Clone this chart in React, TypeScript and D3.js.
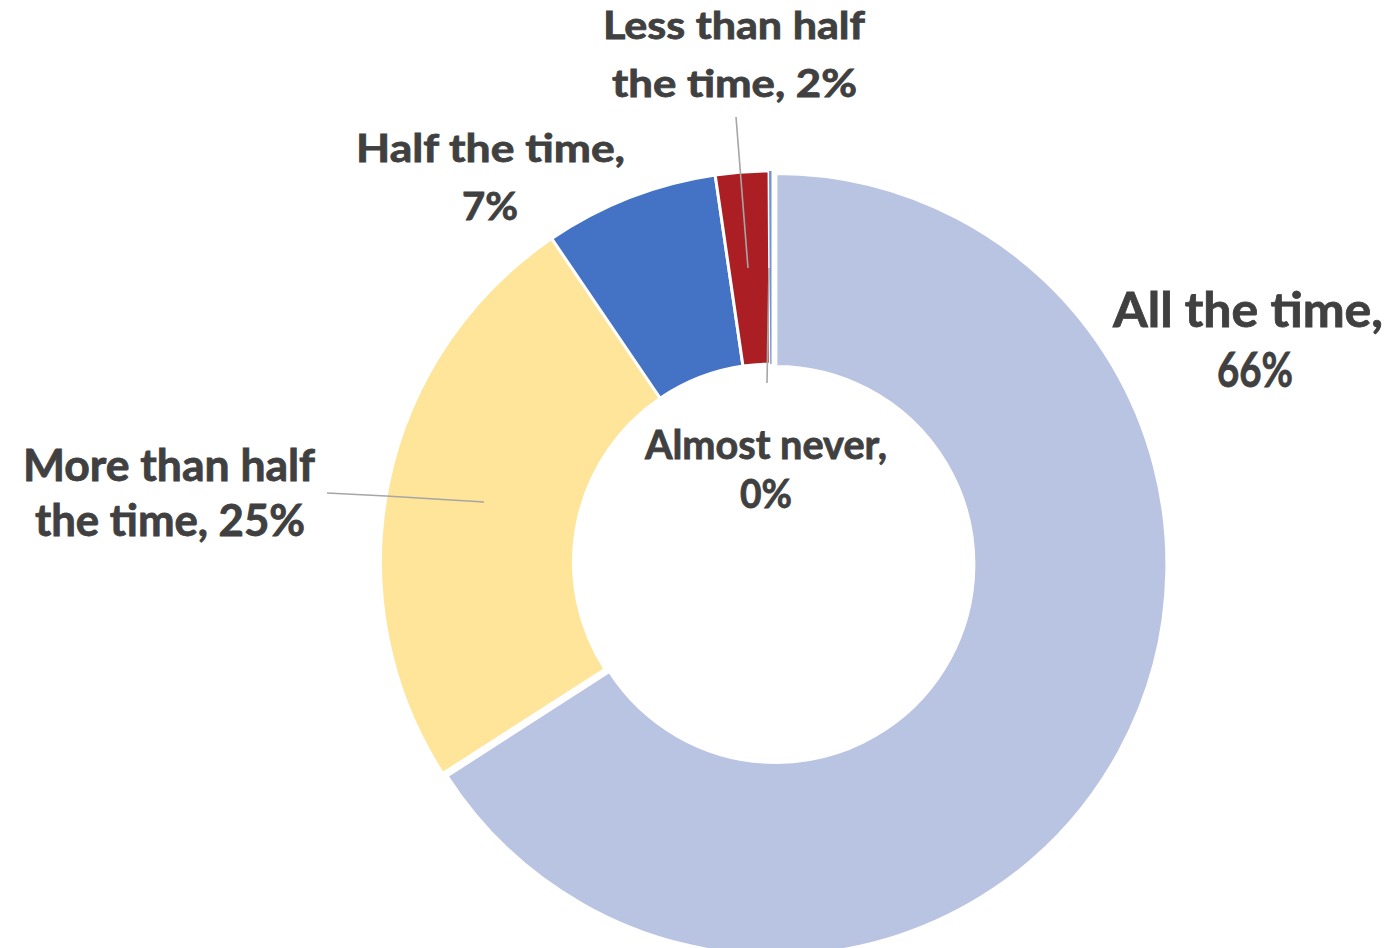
import React from "react";
import * as d3 from "d3";

const categories = ["All the time", "More than half the time", "Half the time", "Less than half the time", "Almost never"];
const values = [65.9, 24.6, 7.2, 2.2, 0.1];
const percentLabels = ["66%", "25%", "7%", "2%", "0%"];
const labelLines = [
  ["All the time,", "66%"],
  ["More than half", "the time, 25%"],
  ["Half the time,", "7%"],
  ["Less than half", "the time, 2%"],
  ["Almost never,", "0%"],
];
const colors = ["#B9C3E2", "#FEE599", "#4472C4", "#AB1F24", "#7393D3"];

// layout (not data)
const W = 1391, H = 948;
const CX = 771.5, CY = 562, R = 391, R0 = 198;
const EXPLODE = [5, 0, 0, 0, 0];
const labelLayout = [
  { lines: [{ x: 1248, y: 327, w: 270 }, { x: 1255, y: 387, w: 76 }], size: 48 },
  { lines: [{ x: 169, y: 481, w: 292 }, { x: 170, y: 536, w: 270 }], size: 43 },
  { lines: [{ x: 490.5, y: 162, w: 269 }, { x: 490, y: 220, w: 56 }], size: 39 },
  { lines: [{ x: 734, y: 39, w: 262 }, { x: 734.5, y: 97, w: 245 }], size: 38 },
  { lines: [{ x: 766, y: 459, w: 242 }, { x: 766, y: 508, w: 52 }], size: 40 },
];
const leaders: [number, number][][] = [
  [],
  [[327, 493], [386, 496], [484, 502]],
  [],
  [[736, 117], [748, 268]],
  [[769, 268], [767, 383]],
];

export default function App() {
  const pie = d3.pie<number>().sort(null).value((d) => d);
  const arcs = pie(values);
  const arc = d3.arc<d3.PieArcDatum<number>>().innerRadius(R0).outerRadius(R);
  const line = d3.line();
  const order = [0, 1, 2, 3, 4];
  return (
    <svg width={W} height={H} style={{ position: "absolute", left: 0, top: 0, background: "#fff" }}>
      <g transform={`translate(${CX},${CY})`}>
        {order.map((i) => {
          const a = arcs[i];
          const mid = (a.startAngle + a.endAngle) / 2;
          const dx = Math.sin(mid) * EXPLODE[i];
          const dy = -Math.cos(mid) * EXPLODE[i];
          const tiny = i === 4;
          return (
            <path
              key={categories[i]}
              d={arc(a) || ""}
              transform={`translate(${dx},${dy})`}
              fill={colors[i]}
              stroke={tiny ? "none" : "#fff"}
              strokeWidth={tiny ? 0 : 3}
              strokeLinejoin="round"
            />
          );
        })}
      </g>
      {leaders.map((pts, i) =>
        pts.length ? (
          <path key={"l" + i} d={line(pts) || ""} fill="none" stroke="#A6A6A6" strokeWidth={1.6} />
        ) : null
      )}
      {labelLines.map((lines, i) => (
        <g
          key={"t" + i}
          fontFamily="Lato, 'Open Sans', sans-serif"
          fontWeight={700}
          fontSize={labelLayout[i].size}
          fill="#404040"
          stroke="#404040"
          strokeWidth={0.8}
          textAnchor="middle"
        >
          {lines.map((t, j) => (
            <text
              key={j}
              x={labelLayout[i].lines[j].x}
              y={labelLayout[i].lines[j].y}
              textLength={labelLayout[i].lines[j].w}
              lengthAdjust="spacingAndGlyphs"
            >
              {t}
            </text>
          ))}
        </g>
      ))}
    </svg>
  );
}
